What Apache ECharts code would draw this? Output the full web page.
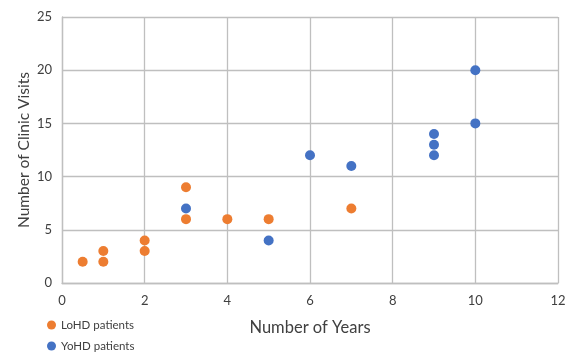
<!DOCTYPE html>
<html><head><meta charset="utf-8">
<script src="https://cdn.jsdelivr.net/npm/echarts@6/dist/echarts.min.js"></script>
<style>html,body{margin:0;padding:0;background:#fff}#c{width:576px;height:354px}</style>
</head><body><div id="c"></div>
<script>
const seriesNames = ['LoHD patients', 'YoHD patients'];
const lohdYears = [0.5, 1, 1, 2, 2, 3, 3, 4, 5, 7];
const lohdVisits = [2, 2, 3, 3, 4, 6, 9, 6, 6, 7];
const yohdYears = [3, 5, 6, 7, 9, 9, 9, 10, 10];
const yohdVisits = [7, 4, 12, 11, 12, 13, 14, 15, 20];
const xTitle = 'Number of Years';
const yTitle = 'Number of Clinic Visits';

const zip = (a, b) => a.map((v, i) => [v, b[i]]);
const font = 'Lato, "Open Sans", sans-serif';
const legendText = {fontSize: 11.5, lineHeight: 12, color: '#404040', fontFamily: font};
const chart = echarts.init(document.getElementById('c'), null, {renderer: 'canvas'});
chart.setOption({
  animation: false,
  textStyle: {fontFamily: font},
  grid: {left: 62, right: 18, top: 17, bottom: 71},
  legend: [
    {left: 47, top: 319, padding: 0, itemWidth: 9, itemHeight: 9, icon: 'circle', itemGap: 4,
     textStyle: legendText, data: [seriesNames[0]]},
    {left: 47, top: 340, padding: 0, itemWidth: 9, itemHeight: 9, icon: 'circle', itemGap: 4,
     textStyle: legendText, data: [seriesNames[1]]}
  ],
  xAxis: {
    type: 'value', min: 0, max: 12, interval: 2,
    name: xTitle, nameLocation: 'middle', nameGap: 36,
    nameTextStyle: {fontSize: 16.5, color: '#404040'},
    axisLine: {show: true, lineStyle: {color: '#bfbfbf', width: 1.3}},
    axisTick: {show: false},
    axisLabel: {fontSize: 13, color: '#404040', margin: 11},
    splitLine: {show: true, lineStyle: {color: '#bfbfbf', width: 1.3}}
  },
  yAxis: {
    type: 'value', min: 0, max: 25, interval: 5,
    name: yTitle, nameLocation: 'middle', nameGap: 30, nameMoveOverlap: false,
    nameTextStyle: {fontSize: 15.5, color: '#404040'},
    axisLine: {show: true, lineStyle: {color: '#bfbfbf', width: 1.3}},
    axisTick: {show: false},
    axisLabel: {fontSize: 13, color: '#404040', margin: 10},
    splitLine: {show: true, lineStyle: {color: '#bfbfbf', width: 1.3}}
  },
  series: [
    {name: seriesNames[0], type: 'scatter', symbolSize: 10, data: zip(lohdYears, lohdVisits), itemStyle: {color: '#ED7D31', opacity: 1}},
    {name: seriesNames[1], type: 'scatter', symbolSize: 10, data: zip(yohdYears, yohdVisits), itemStyle: {color: '#4472C4', opacity: 1}}
  ]
});
</script></body></html>
